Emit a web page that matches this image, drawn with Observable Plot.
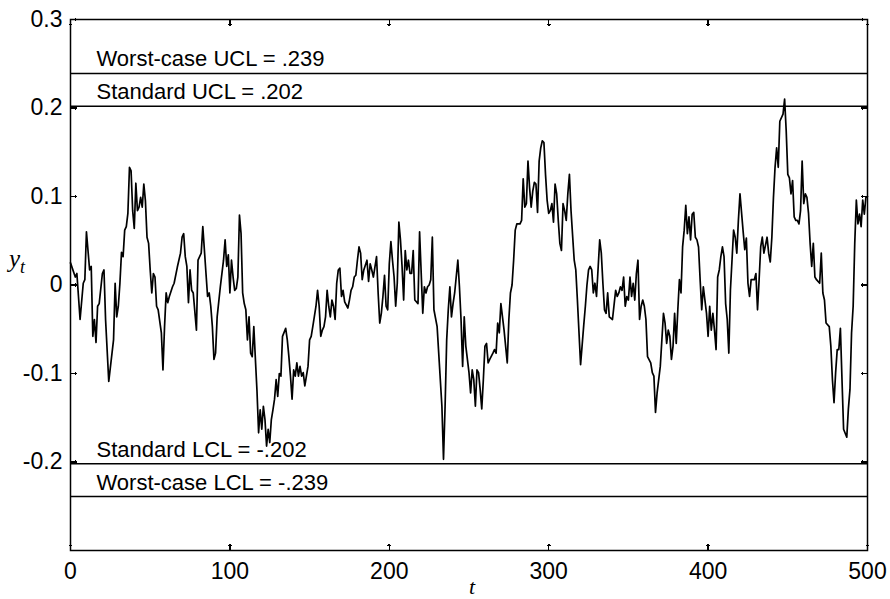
<!DOCTYPE html>
<html><head><meta charset="utf-8">
<script src="https://cdn.jsdelivr.net/npm/d3@7"></script>
<script src="https://cdn.jsdelivr.net/npm/@observablehq/plot@0.6"></script>
<style>body{margin:0;background:#fff}</style>
</head><body><div id="chart"></div>
<script>
const t = [0,3,4,6,8,9,10,12,13,14,15,16,17,18,20,21,22,24,27,28,29,30,31,32,33,34,35,36,37,38,39,40,41,42,43,44,45,46,47,48,49,50,51,52,53,54,55,57,58,59,60,61,62,64,65,67,69,70,71,72,73,74,75,76,77,79,80,82,83,85,86,87,88,89,90,91,92,94,96,97,98,99,100,101,102,103,104,105,106,107,108,109,110,111,112,113,114,115,116,117,118,119,120,121,122,123,124,125,126,127,128,129,130,131,132,133,135,136,137,138,139,140,141,142,143,144,145,146,147,149,150,151,152,154,155,156,157,158,159,160,161,162,163,164,165,166,167,168,169,170,171,172,174,175,176,177,178,179,180,181,182,183,184,186,187,188,189,190,192,193,194,195,196,197,198,199,200,201,202,203,204,205,206,207,208,209,210,211,212,213,214,215,216,218,219,221,222,223,224,225,226,227,228,230,231,233,234,235,236,237,238,239,240,241,243,244,245,246,247,248,249,250,251,252,253,254,255,256,257,258,259,260,261,262,263,265,266,267,268,269,270,271,272,274,275,276,277,278,279,280,281,282,283,284,285,286,287,288,289,290,291,292,293,294,295,296,297,298,299,300,301,302,303,304,305,306,307,308,309,310,311,312,313,314,316,317,318,320,322,323,324,325,326,327,328,329,330,332,333,334,335,336,337,338,340,342,343,344,345,346,347,348,349,350,351,352,353,354,355,356,357,358,359,360,361,362,364,365,366,367,368,370,371,372,373,374,375,376,377,378,379,380,381,382,383,384,385,386,387,388,389,390,391,392,393,394,395,396,397,398,399,400,401,402,403,404,405,406,407,408,409,410,411,412,413,414,416,417,418,419,420,422,423,424,425,426,427,429,430,431,432,433,434,435,437,438,439,440,441,442,443,444,445,447,448,449,450,451,452,453,454,455,456,457,458,459,460,461,462,463,464,465,466,467,468,470,471,472,473,474,476,477,478,479,480,481,482,483,484,485,487,488,489,490,491,492,493,494,495,496,497,498,499,500];
const yt = [0.025,0.009,0.013,-0.039,0.002,0.006,0.060,0.017,0.021,-0.058,-0.039,-0.065,-0.024,-0.021,0.013,0.017,-0.039,-0.109,-0.062,0.002,-0.036,-0.024,0.002,0.037,0.032,0.062,0.066,0.081,0.133,0.129,0.084,0.064,0.115,0.084,0.088,0.099,0.088,0.114,0.095,0.054,0.047,0.017,-0.009,0.013,0.009,-0.024,-0.028,-0.054,-0.096,-0.047,-0.009,-0.020,-0.013,-0.002,0.002,0.020,0.036,0.054,0.058,0.032,0.021,-0.020,0.017,-0.006,-0.009,-0.051,0.028,0.036,0.066,0.013,-0.013,-0.009,-0.024,-0.047,-0.084,-0.077,-0.036,-0.002,0.028,0.051,0.021,0.034,-0.009,0.028,0.009,-0.006,-0.004,0.009,0.079,0.058,-0.009,-0.021,-0.028,-0.062,-0.036,-0.077,-0.081,-0.047,-0.084,-0.120,-0.167,-0.141,-0.163,-0.137,-0.152,-0.182,-0.163,-0.178,-0.152,-0.141,-0.129,-0.107,-0.126,-0.100,-0.103,-0.058,-0.049,-0.062,-0.081,-0.103,-0.129,-0.096,-0.103,-0.088,-0.103,-0.092,-0.103,-0.099,-0.114,-0.092,-0.062,-0.058,-0.047,-0.024,-0.006,-0.024,-0.058,-0.051,-0.047,-0.036,-0.006,-0.024,-0.036,-0.017,-0.024,-0.039,0.002,0.017,0.019,-0.013,-0.006,-0.019,-0.026,-0.017,-0.006,-0.002,0.009,0.011,0.028,0.043,0.036,0.006,0.017,0.028,0.004,0.024,0.017,0.009,0.032,-0.009,-0.043,-0.032,-0.013,0.011,-0.024,-0.028,0.024,0.049,0.028,0.009,-0.024,0.002,0.071,0.051,0.021,-0.017,0.039,0.017,0.028,0.013,0.013,0.039,-0.017,-0.021,0.060,-0.032,-0.002,-0.009,-0.002,0.000,0.006,0.054,-0.028,-0.047,-0.077,-0.137,-0.197,-0.137,-0.062,-0.028,-0.002,-0.036,-0.021,-0.009,0.028,-0.002,-0.039,-0.092,-0.036,-0.069,-0.084,-0.099,-0.122,-0.096,-0.107,-0.137,-0.096,-0.099,-0.118,-0.140,-0.107,-0.069,-0.066,-0.088,-0.084,-0.077,-0.073,-0.077,-0.043,-0.054,-0.021,-0.036,-0.051,-0.088,-0.039,-0.009,0.000,0.028,0.062,0.069,0.069,0.069,0.073,0.120,0.088,0.092,0.140,0.110,0.088,0.106,0.116,0.114,0.082,0.140,0.155,0.163,0.161,0.125,0.096,0.081,0.084,0.092,0.071,0.114,0.103,0.073,0.047,0.039,0.092,0.084,0.073,0.103,0.125,0.084,0.028,0.017,-0.017,-0.090,-0.045,-0.024,0.000,0.017,0.021,0.017,-0.009,0.002,-0.013,0.051,0.036,0.002,-0.028,-0.032,-0.009,-0.036,-0.039,-0.006,-0.013,-0.009,-0.002,-0.006,0.009,-0.024,-0.013,-0.017,0.009,-0.013,0.002,-0.017,0.013,0.028,-0.039,-0.024,-0.017,-0.024,-0.039,-0.081,-0.088,-0.099,-0.103,-0.144,-0.122,-0.092,-0.062,-0.032,-0.043,-0.066,-0.051,-0.058,-0.084,-0.069,-0.032,-0.066,-0.028,0.006,-0.009,0.043,0.062,0.090,0.058,0.077,0.051,0.080,0.082,0.054,0.051,0.043,0.006,-0.028,-0.002,-0.017,-0.032,-0.058,-0.024,-0.051,-0.032,-0.051,-0.073,0.009,0.017,0.032,0.043,0.032,-0.021,-0.039,-0.077,-0.006,0.062,0.054,0.036,0.073,0.103,0.060,0.040,0.053,0.002,-0.013,0.006,0.006,0.013,-0.028,0.006,0.043,0.054,0.036,0.054,0.036,0.026,0.054,0.099,0.133,0.155,0.133,0.185,0.193,0.210,0.174,0.125,0.121,0.103,0.118,0.077,0.073,0.073,0.069,0.084,0.140,0.092,0.103,0.099,0.081,0.047,0.021,0.047,0.009,0.006,0.002,0.036,-0.009,-0.017,-0.043,-0.047,-0.069,-0.107,-0.133,-0.099,-0.073,-0.073,-0.049,-0.107,-0.163,-0.172,-0.140,-0.118,-0.054,-0.024,0.047,0.096,0.069,0.080,0.066,0.096,0.080,0.099,0.100];

const limitValues = [0.239, 0.202, -0.202, -0.239];
const limitLabels = ["Worst-case UCL = .239", "Standard UCL = .202", "Standard LCL = -.202", "Worst-case LCL = -.239"];
const xTicks = [0, 100, 200, 300, 400, 500];
const yTicks = [0.3, 0.2, 0.1, 0, -0.1, -0.2];

const series = t.map((d, i) => ({t: d, y: yt[i]}));
const limits = limitValues.map((v, i) => ({v, label: limitLabels[i]}));
const fmt = d => d === 0 ? "0" : d.toFixed(1);
const font = "'Liberation Sans', Arial, sans-serif";
const tickStyle = {length: 6, anchor: "start", stroke: "black", strokeWidth: 1.4, shapeRendering: "crispEdges"};

const chart = Plot.plot({
  width: 890, height: 599,
  marginLeft: 70, marginRight: 23, marginTop: 19, marginBottom: 49,
  style: {fontFamily: font, background: "white", color: "black", overflow: "visible"},
  x: {domain: [0, 500]},
  y: {domain: [-0.3, 0.3]},
  marks: [
    Plot.axisX(xTicks, {anchor: "bottom", tickSize: 0, tickPadding: 12, fontSize: 23, label: null, tickFormat: d => String(d)}),
    Plot.axisY(yTicks, {anchor: "left", tickSize: 0, tickPadding: 8, fontSize: 23, label: null, tickFormat: fmt}),
    // inward ticks on all four sides
    Plot.vector(xTicks, {x: d => d, frameAnchor: "bottom", rotate: 0, ...tickStyle}),
    Plot.vector(xTicks, {x: d => d, frameAnchor: "top", rotate: 180, ...tickStyle}),
    Plot.vector(yTicks, {y: d => d, frameAnchor: "left", rotate: 90, ...tickStyle}),
    Plot.vector(yTicks, {y: d => d, frameAnchor: "right", rotate: -90, ...tickStyle}),
    Plot.ruleY(limits, {y: "v", stroke: "black", strokeWidth: 1.4}),
    Plot.text(limits, {y: "v", text: "label", frameAnchor: "left", dx: 26, dy: -7, lineAnchor: "bottom", textAnchor: "start", fontSize: 22, fill: "black"}),
    Plot.line(series, {x: "t", y: "y", stroke: "black", strokeWidth: 1.7}),
    Plot.frame({stroke: "black", strokeWidth: 1.5})
  ]
});

const svg = d3.select(chart);
const yl = svg.append("text")
  .attr("x", 17).attr("y", 267)
  .attr("font-family", "'Liberation Serif', 'Times New Roman', serif")
  .attr("font-style", "italic").attr("font-size", 25).attr("fill", "black")
  .text("y");
yl.append("tspan").attr("dy", 6).attr("font-size", 18).text("t");
svg.append("text")
  .attr("x", 472).attr("y", 594).attr("text-anchor", "middle")
  .attr("font-family", "'Liberation Serif', 'Times New Roman', serif")
  .attr("font-style", "italic").attr("font-size", 22).attr("fill", "black")
  .text("t");

document.getElementById("chart").appendChild(chart);
</script>
</body></html>
